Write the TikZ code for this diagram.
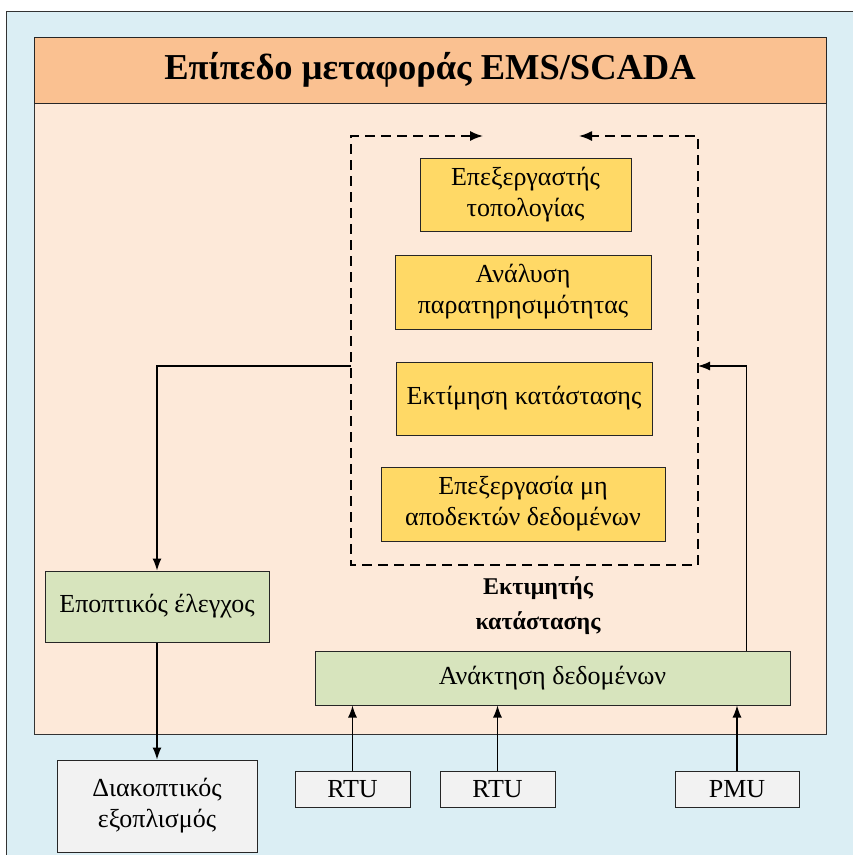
\documentclass[tikz,border=0pt]{standalone}
\usepackage{fontspec}
\setmainfont{Liberation Serif}
\usetikzlibrary{arrows.meta}
\definecolor{fondo}{HTML}{DBEEF4}
\definecolor{cabeza}{HTML}{FAC191}
\definecolor{cuerpo}{HTML}{FDE9D9}
\definecolor{amarillo}{HTML}{FFD966}
\definecolor{verde}{HTML}{D7E4BD}
\definecolor{gris}{HTML}{F2F2F2}

\begin{document}
\begin{tikzpicture}[x=1pt,y=-1pt]
% estilos de cajas y flechas
\tikzstyle{caja}=[draw=black!85,line width=1pt,inner sep=0pt,align=center,font=\fontsize{26}{31}\selectfont];
\tikzstyle{algo}=[caja,fill=amarillo];
\tikzstyle{modu}=[caja,fill=verde];
\tikzstyle{equi}=[caja,fill=gris];
\tikzstyle{flecha}=[line width=1.2pt,-{Latex[length=12pt,width=9pt]}];
\tikzstyle{marco}=[line width=1.6pt,dash pattern=on 10pt off 6pt,{Latex[length=13pt,width=10pt]}-{Latex[length=13pt,width=10pt]}];
% fondo y capa EMS/SCADA
\clip (0,0) rectangle (853,855);
\draw[draw=black!80,fill=fondo] (6,11) rectangle (870,870);
\draw[draw=black!80,fill=cuerpo] (34,103) rectangle (826,734);
\node[caja,fill=cabeza,minimum width=792,minimum height=66,font=\bfseries\fontsize{36.5}{42}\selectfont] (titulo) at (430,70) {Επίπεδο μεταφοράς EMS/SCADA};
% estimador de estado
\coordinate (nw) at (351,136);
\coordinate (sw) at (351,565);
\coordinate (se) at (698,565);
\coordinate (ne) at (698,136);
\coordinate (fizq) at (483,136);
\coordinate (fder) at (579,136);
\draw[marco] (fizq) -- (nw) -- (sw) -- (se) -- (ne) -- (fder);
\node[algo,minimum width=211,minimum height=73] (topo) at (525.5,194.5) {Επεξεργαστής\\τοπολογίας};
\node[algo,minimum width=256,minimum height=74] (obse) at (523,292) {Ανάλυση\\παρατηρησιμότητας};
\node[algo,minimum width=256,minimum height=73] (esti) at (524,398.5) {Εκτίμηση κατάστασης};
\node[algo,minimum width=284,minimum height=74] (erro) at (523,504) {Επεξεργασία μη\\αποδεκτών δεδομένων};
\node[align=center,font=\bfseries\fontsize{24}{35}\selectfont] (rotulo) at (538,606) {Εκτιμητής\\κατάστασης};
% modulos y equipos
\node[modu,minimum width=224,minimum height=71] (epop) at (157,606.5) {Εποπτικός έλεγχος};
\node[modu,minimum width=475,minimum height=54] (anak) at (552.5,678) {Ανάκτηση δεδομένων};
\node[equi,minimum width=200,minimum height=92] (diak) at (157,806) {Διακοπτικός\\εξοπλισμός};
\node[equi,minimum width=115,minimum height=36] (rtua) at (352.5,789) {RTU};
\node[equi,minimum width=115,minimum height=36] (rtub) at (497.5,789) {RTU};
\node[equi,minimum width=124,minimum height=36] (pmu) at (737,789) {PMU};
% conexiones
\coordinate (sale) at (351,366);
\coordinate (entra) at (698,366);
\draw[flecha] (sale) -| (epop.north);
\draw[flecha] (epop) -- (diak);
\draw[flecha] (rtua) -- (rtua |- anak.south);
\draw[flecha] (rtub) -- (rtub |- anak.south);
\draw[flecha] (pmu) -- (pmu |- anak.south);
\draw[flecha] ([xshift=194pt]anak.north) |- (entra);
\end{tikzpicture}
\end{document}
